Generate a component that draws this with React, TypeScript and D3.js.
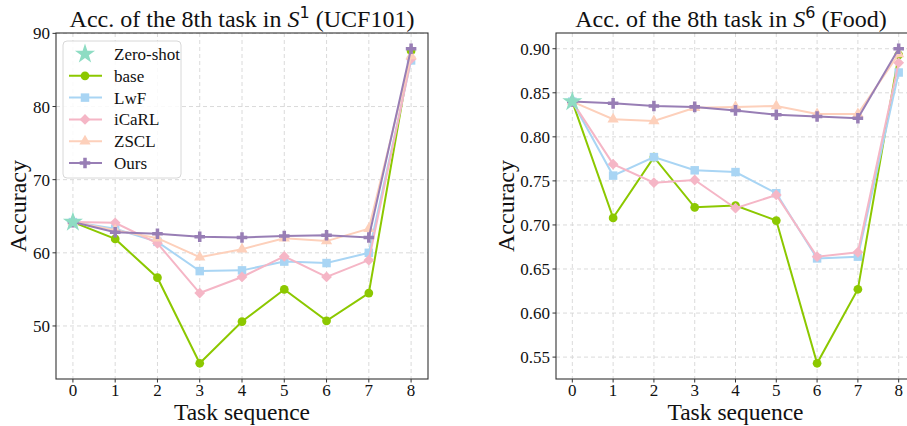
import React from "react";
import * as d3 from "d3";

// x categories
const tasks = [0, 1, 2, 3, 4, 5, 6, 7, 8];

// S^1 (UCF101)
const ucfZeroShot = 64.2;
const ucfBase = [64.2, 61.9, 56.6, 44.9, 50.6, 55.0, 50.7, 54.5, 87.6];
const ucfLwF = [64.2, 63.3, 61.5, 57.5, 57.6, 58.8, 58.6, 60.0, 86.3];
const ucfICaRL = [64.2, 64.1, 61.3, 54.5, 56.7, 59.5, 56.7, 59.0, 86.5];
const ucfZSCL = [64.2, 63.1, 62.0, 59.4, 60.5, 62.0, 61.6, 63.3, 86.9];
const ucfOurs = [64.2, 62.8, 62.6, 62.2, 62.1, 62.3, 62.4, 62.1, 87.9];
const ucfTicks = [50, 60, 70, 80, 90];

// S^6 (Food)
const foodZeroShot = 0.84;
const foodBase = [0.84, 0.708, 0.777, 0.72, 0.722, 0.705, 0.543, 0.627, 0.893];
const foodLwF = [0.84, 0.756, 0.777, 0.762, 0.76, 0.736, 0.662, 0.664, 0.873];
const foodICaRL = [0.84, 0.769, 0.748, 0.751, 0.719, 0.734, 0.664, 0.669, 0.884];
const foodZSCL = [0.84, 0.82, 0.818, 0.833, 0.834, 0.835, 0.826, 0.826, 0.894];
const foodOurs = [0.84, 0.838, 0.835, 0.834, 0.83, 0.825, 0.823, 0.821, 0.9];
const foodTicks = [0.55, 0.6, 0.65, 0.7, 0.75, 0.8, 0.85, 0.9];

const seriesNames = ["base", "LwF", "iCaRL", "ZSCL", "Ours"];
const colors = {
  "Zero-shot": "#8edcc3",
  base: "#8cc800",
  LwF: "#a9d5f4",
  iCaRL: "#f5b6c6",
  ZSCL: "#fdd0bb",
  Ours: "#987eb5",
};

const FONT = "'Liberation Serif', 'Times New Roman', serif";

// marker shapes per series
const symbols = {
  base: { type: d3.symbolCircle, size: 60, rotate: 0 },
  LwF: { type: d3.symbolSquare, size: 72, rotate: 0 },
  iCaRL: { type: d3.symbolSquare, size: 58, rotate: 45 },
  ZSCL: { type: d3.symbolTriangle, size: 55, rotate: 0 },
  Ours: { type: d3.symbolCross, size: 62, rotate: 0 },
  "Zero-shot": { type: d3.symbolStar, size: 125, rotate: 0 },
};

function Marker({ name, x, y }) {
  const s = symbols[name];
  const d = d3.symbol().type(s.type).size(s.size)();
  return (
    <path
      d={d}
      transform={`translate(${x},${y}) rotate(${s.rotate})`}
      fill={colors[name]}
    />
  );
}

function Panel({ left, right, top, bottom, data, zeroShot, ticks, fmt, title, sup, sub, ylabelX, titleX }) {
  const all = Object.values(data).flat().concat([zeroShot]);
  const [lo, hi] = d3.extent(all);
  const pad = (hi - lo) * 0.05;
  const x = d3.scaleLinear().domain([-0.4, 8.4]).range([left, right]);
  const y = d3.scaleLinear().domain([lo - pad, hi + pad]).range([bottom, top]);
  const line = d3
    .line()
    .x((d, i) => x(tasks[i]))
    .y((d) => y(d));
  const cx = titleX ?? (left + right) / 2;

  return (
    <g>
      {/* grid */}
      {tasks.map((t) => (
        <line key={`vx${t}`} x1={x(t)} x2={x(t)} y1={top} y2={bottom} stroke="#d6d6d6" strokeWidth={0.9} strokeDasharray="4,3" />
      ))}
      {ticks.map((t) => (
        <line key={`hy${t}`} x1={left} x2={right} y1={y(t)} y2={y(t)} stroke="#d6d6d6" strokeWidth={0.9} strokeDasharray="4,3" />
      ))}
      {/* series */}
      {seriesNames.map((n) => (
        <g key={n}>
          <path d={line(data[n])} fill="none" stroke={colors[n]} strokeWidth={2} />
          {data[n].map((v, i) => (
            <Marker key={i} name={n} x={x(tasks[i])} y={y(v)} />
          ))}
        </g>
      ))}
      <Marker name="Zero-shot" x={x(0)} y={y(zeroShot)} />
      {/* spines */}
      <rect x={left} y={top} width={right - left} height={bottom - top} fill="none" stroke="#333" strokeWidth={1.1} />
      {/* x ticks */}
      {tasks.map((t) => (
        <g key={`xt${t}`}>
          <line x1={x(t)} x2={x(t)} y1={bottom} y2={bottom + 3.5} stroke="#333" />
          <text x={x(t)} y={bottom + 17} textAnchor="middle" fontSize={17} fontFamily={FONT} fill="#111">
            {t}
          </text>
        </g>
      ))}
      {/* y ticks */}
      {ticks.map((t) => (
        <g key={`yt${t}`}>
          <line x1={left - 3.5} x2={left} y1={y(t)} y2={y(t)} stroke="#333" />
          <text x={left - 6} y={y(t) + 6} textAnchor="end" fontSize={17} fontFamily={FONT} fill="#111">
            {fmt(t)}
          </text>
        </g>
      ))}
      {/* labels */}
      <text x={(left + Math.min(right, 907)) / 2 + (right > 907 ? 4 : 0)} y={420} textAnchor="middle" fontSize={23.5} fontFamily={FONT} fill="#111">
        Task sequence
      </text>
      <text
        transform={`translate(${ylabelX},${(top + bottom) / 2}) rotate(-90)`}
        textAnchor="middle"
        fontSize={24}
        fontFamily={FONT}
        fill="#111"
      >
        Accuracy
      </text>
      <text x={cx} y={27} textAnchor="middle" fontSize={24} fontFamily={FONT} fill="#111">
        {title}
        <tspan fontStyle="italic">S</tspan>
        <tspan fontFamily="'DejaVu Sans', sans-serif" fontSize={16} dy={-9}>
          {sup}
        </tspan>
        <tspan dy={9}>{` ${sub}`}</tspan>
      </text>
    </g>
  );
}

function Legend({ x0, y0 }) {
  const names = ["Zero-shot", ...seriesNames];
  return (
    <g>
      <rect x={x0} y={y0} width={118} height={137} rx={4} fill="white" fillOpacity={0.85} stroke="#d8d8d8" />
      {names.map((n, i) => {
        const yy = y0 + 13 + i * 21.8;
        return (
          <g key={n}>
            {n !== "Zero-shot" && (
              <line x1={x0 + 6} x2={x0 + 39} y1={yy} y2={yy} stroke={colors[n]} strokeWidth={2} />
            )}
            <Marker name={n} x={x0 + 22} y={yy} />
            <text x={x0 + 51} y={yy + 6} fontSize={17} fontFamily={FONT} fill="#111">
              {n}
            </text>
          </g>
        );
      })}
    </g>
  );
}

export default function App() {
  const ucf = { base: ucfBase, LwF: ucfLwF, iCaRL: ucfICaRL, ZSCL: ucfZSCL, Ours: ucfOurs };
  const food = { base: foodBase, LwF: foodLwF, iCaRL: foodICaRL, ZSCL: foodZSCL, Ours: foodOurs };
  return (
    <svg width={907} height={426} style={{ position: "absolute", left: 0, top: 0, background: "white" }}>
      <Panel
        left={56}
        right={428}
        top={33}
        bottom={379}
        data={ucf}
        zeroShot={ucfZeroShot}
        ticks={ucfTicks}
        fmt={(d) => d3.format("d")(d)}
        title="Acc. of the 8th task in "
        sup="1"
        sub="(UCF101)"
        ylabelX={26}
      />
      <Legend x0={63} y0={41} />
      <Panel
        left={556}
        right={915}
        top={33}
        bottom={379}
        data={food}
        zeroShot={foodZeroShot}
        ticks={foodTicks}
        fmt={(d) => d3.format(".2f")(d)}
        title="Acc. of the 8th task in "
        sup="6"
        sub="(Food)"
        ylabelX={514}
        titleX={731}
      />
    </svg>
  );
}
